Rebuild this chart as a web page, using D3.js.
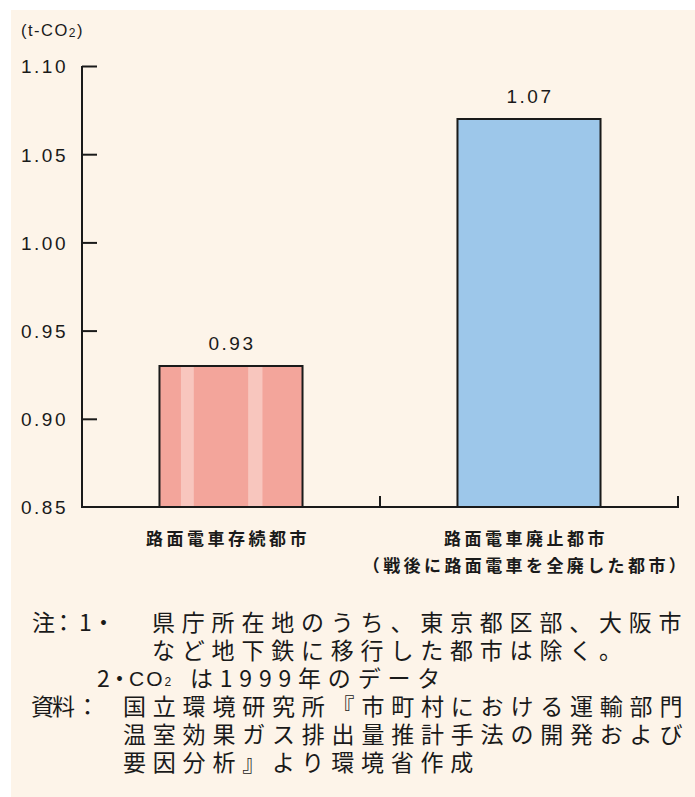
<!DOCTYPE html>
<html lang="ja"><head><meta charset="utf-8">
<script src="https://cdn.jsdelivr.net/npm/d3@7"></script>
<style>
html,body{margin:0;padding:0;background:#fff;}
svg{display:block;}
</style></head>
<body>
<script>
const categories = ["路面電車存続都市", "路面電車廃止都市"];
const subLabels = ["", "（戦後に路面電車を全廃した都市）"];
const values = [0.93, 1.07];
const valueLabels = ["0.93", "1.07"];
const yTicks = [0.85, 0.90, 0.95, 1.00, 1.05, 1.10];
const yTickLabels = ["0.85", "0.90", "0.95", "1.00", "1.05", "1.10"];
const unitLabel = "(t-CO";
const noteBodies = [
  "県庁所在地のうち、東京都区部、大阪市",
  "など地下鉄に移行した都市は除く。",
  "は1999年のデータ",
  "国立環境研究所『市町村における運輸部門",
  "温室効果ガス排出量推計手法の開発および",
  "要因分析』より環境省作成"
];
// small glyph pieces of the note heads: [line, text]
const notePieces = [
  [0, "注"], [0, "："], [0, "1"], [0, "・"],
  [2, "2"], [2, "・"],
  [3, "資"], [3, "料"], [3, "："]
];
const barColors = ["#f3a59b", "#9dc7ea"];

const W = 695, H = 797;
const svg = d3.select("body").append("svg").attr("width", W).attr("height", H).attr("lang", "ja");
svg.append("rect").attr("x", 11).attr("y", 10).attr("width", W - 11).attr("height", H - 10).attr("fill", "#fdf4e9");

const x0 = 82, x1 = 678, yTop = 66, yBot = 507;
const x = d3.scaleBand().domain(categories).range([x0, x1]).paddingInner(0.52).paddingOuter(0.26);
const y = d3.scaleLinear().domain([0.85, 1.10]).range([yBot, yTop]);

const numFont = "'Liberation Sans', Arial, sans-serif";
const jpFont = "'Noto Sans CJK JP', sans-serif";
const ink = "#1a1a1a";

// bars
const bars = svg.append("g");
categories.forEach((c, i) => {
  const bx = x(c), bw = x.bandwidth(), by = y(values[i]);
  bars.append("rect").attr("x", bx).attr("y", by).attr("width", bw).attr("height", yBot - by).attr("fill", barColors[i]);
  if (i === 0) {
    [[0.15, 0.24], [0.62, 0.72]].forEach(([a, b]) => {
      bars.append("rect").attr("x", bx + bw * a).attr("y", by).attr("width", bw * (b - a)).attr("height", yBot - by).attr("fill", "#f8c6be");
    });
  }
  bars.append("path").attr("d", `M${bx},${yBot}V${by}H${bx + bw}V${yBot}`).attr("fill", "none").attr("stroke", ink).attr("stroke-width", 2);
  svg.append("text").attr("x", bx + bw / 2 + 1).attr("y", by - 16).attr("text-anchor", "middle")
    .attr("font-family", numFont).attr("font-size", 19).attr("letter-spacing", 2.5).attr("fill", ink)
    .text(valueLabels[i]);
});

// y axis
const yAxis = d3.axisRight(y).tickValues(yTicks).tickSize(15).tickFormat((d, i) => yTickLabels[i]);
const gy = svg.append("g").attr("transform", `translate(${x0},0)`).call(yAxis);
gy.select(".domain").attr("d", `M0,${yTop}V${yBot}`).attr("stroke", ink).attr("stroke-width", 2);
gy.selectAll(".tick line").attr("stroke", ink).attr("stroke-width", 2);
gy.selectAll(".tick text").attr("x", -14).attr("text-anchor", "end").attr("dy", "0.36em")
  .attr("font-family", numFont).attr("font-size", 19).attr("letter-spacing", 2.5).attr("fill", ink);
gy.selectAll(".tick").filter(d => d === 0.85).select("line").remove();

// x axis
svg.append("line").attr("x1", x0 - 1).attr("x2", x1 + 1).attr("y1", yBot).attr("y2", yBot).attr("stroke", ink).attr("stroke-width", 2);
[x0 + (x1 - x0) / 2, x1].forEach(tx => {
  svg.append("line").attr("x1", tx).attr("x2", tx).attr("y1", yBot).attr("y2", yBot - 11).attr("stroke", ink).attr("stroke-width", 2);
});

// category labels
categories.forEach((c, i) => {
  const cx = x(c) + x.bandwidth() / 2 - 3;
  svg.append("text").attr("x", cx).attr("y", 545).attr("text-anchor", "middle")
    .attr("font-family", jpFont).attr("font-weight", "bold").attr("font-size", 17).attr("letter-spacing", 3.5).attr("fill", ink).text(c);
  if (subLabels[i]) {
    svg.append("text").attr("x", cx).attr("y", 572).attr("text-anchor", "middle")
      .attr("font-family", jpFont).attr("font-weight", "bold").attr("font-size", 17).attr("letter-spacing", 3.4).attr("fill", ink).text(subLabels[i]);
  }
});

// unit label
const ut = svg.append("text").attr("x", 21).attr("y", 36).attr("font-family", numFont).attr("font-size", 16.5).attr("letter-spacing", 1.5).attr("fill", ink).text(unitLabel);
ut.append("tspan").attr("font-size", 12).attr("dy", 1).text("2");
ut.append("tspan").attr("dy", -1).text(")");

// notes
const fs = 23;
const lineY = [631, 659, 687, 715, 743, 771];
const bodyX = [152, 152, 190, 123, 123, 123];
const pieceX = [32, 52, 79, 92, 97, 108, 31, 52, 76];
notePieces.forEach(([li, t], k) => {
  svg.append("text").attr("x", pieceX[k]).attr("y", lineY[li])
    .attr("font-family", jpFont).attr("font-size", fs).attr("fill", ink).text(t);
});
noteBodies.forEach((t, i) => {
  svg.append("text").attr("x", bodyX[i]).attr("y", lineY[i]).attr("font-family", jpFont).attr("font-size", fs)
    .attr("letter-spacing", 6.8).attr("fill", ink).text(t);
});
// CO2 in note 2
const co = svg.append("text").attr("x", 129).attr("y", lineY[2] - 1).attr("font-family", numFont).attr("font-size", 21)
  .attr("letter-spacing", 2).attr("fill", ink).text("CO");
co.append("tspan").attr("font-size", 12).attr("letter-spacing", 0).text("2");
</script>
</body></html>
